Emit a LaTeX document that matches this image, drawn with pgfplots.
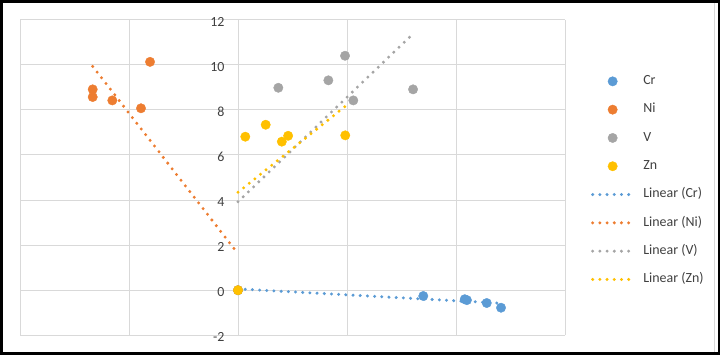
\documentclass[border=0pt]{standalone}
\usepackage{pgfplots}
\usepackage{pgfplotstable}
\pgfplotsset{compat=1.18}
\usepackage{fontspec}
\setmainfont{Carlito}
\definecolor{cCr}{HTML}{5B9BD5}
\definecolor{cNi}{HTML}{ED7D31}
\definecolor{cV}{HTML}{A5A5A5}
\definecolor{cZn}{HTML}{FFC000}
\definecolor{gridc}{HTML}{D9D9D9}
\definecolor{txt}{HTML}{404040}

\pgfplotstableread{
x y
0 0
1.700 -0.257
2.080 -0.400
2.100 -0.440
2.282 -0.568
2.413 -0.776
}\crdata
\pgfplotstableread{
x y
-1.333 8.91
-1.333 8.57
-1.153 8.42
-0.890 8.07
-0.807 10.13
0 0
}\nidata
\pgfplotstableread{
x y
0 0
0.370 8.98
0.829 9.31
0.982 10.40
1.058 8.42
1.606 8.91
}\vdata
\pgfplotstableread{
x y
0 0
0.067 6.81
0.254 7.34
0.402 6.59
0.460 6.85
0.984 6.87
}\zndata

\begin{document}
\begin{tikzpicture}
\useasboundingbox (0,0) rectangle (722bp,355bp);
\begin{axis}[
  at={(20bp,19.7bp)}, anchor=south west,
  scale only axis, width=545bp, height=315.6bp,
  xmin=-2, xmax=3, ymin=-2, ymax=12,
  xtick={-2,-1,0,1,2,3}, xticklabels={},
  ytick={-2,0,2,4,6,8,10,12},
  axis x line=bottom, axis y line=middle,
  hide obscured y ticks=false, hide obscured x ticks=false,
  axis line style={draw=gridc, line width=1bp, -},
  grid=major, major grid style={draw=gridc, line width=1bp},
  major tick length=0pt,
  /pgf/number format/assume math mode=true,
  yticklabel style={font=\fontsize{14}{16}\selectfont, text=txt, anchor=east, xshift=-10bp, yshift=-2bp},
  clip=false,
  legend style={draw=none, fill=none, at={(1,1)}, anchor=north west,
    xshift=26bp, yshift=-56bp, inner sep=0pt, outer sep=0pt,
    font=\fontsize{14}{16}\selectfont, text=txt,
    row sep=17bp,
    nodes={inner sep=0pt, text height=8.8bp, text depth=2.5bp},
    /tikz/every odd column/.append style={column sep=9bp}},
  legend cell align=left,
  legend image code/.code={\draw[mark repeat=2, mark phase=2, #1] plot coordinates {(0bp,0bp) (20bp,0bp) (40bp,0bp)};},
  trend/.style={line width=3.3bp, dash pattern=on 0pt off 7.2bp, line cap=round},
]
\addplot[only marks, mark=*, mark size=4.7bp, color=cCr] table {\crdata};
\addlegendentry{Cr}
\addplot[only marks, mark=*, mark size=4.7bp, color=cNi] table {\nidata};
\addlegendentry{Ni}
\addplot[only marks, mark=*, mark size=4.7bp, color=cV] table {\vdata};
\addlegendentry{V}
\addplot[only marks, mark=*, mark size=4.7bp, color=cZn] table {\zndata};
\addlegendentry{Zn}
\addplot[trend, color=cCr, no marks] table[x=x, y={create col/linear regression={y=y}}] {\crdata};
\addlegendentry{Linear (Cr)}
\addplot[trend, color=cNi, no marks] table[x=x, y={create col/linear regression={y=y}}] {\nidata};
\addlegendentry{Linear (Ni)}
\addplot[trend, color=cV, no marks] table[x=x, y={create col/linear regression={y=y}}] {\vdata};
\addlegendentry{Linear (V)}
\addplot[trend, color=cZn, no marks] table[x=x, y={create col/linear regression={y=y}}] {\zndata};
\addlegendentry{Linear (Zn)}
\end{axis}
\draw[gridc, line width=0.8bp] (714bp,2bp) -- (714bp,353bp);
\draw[black, line width=2.6bp] (1.3bp,1.3bp) rectangle (719bp,353.7bp);
\end{tikzpicture}
\end{document}
